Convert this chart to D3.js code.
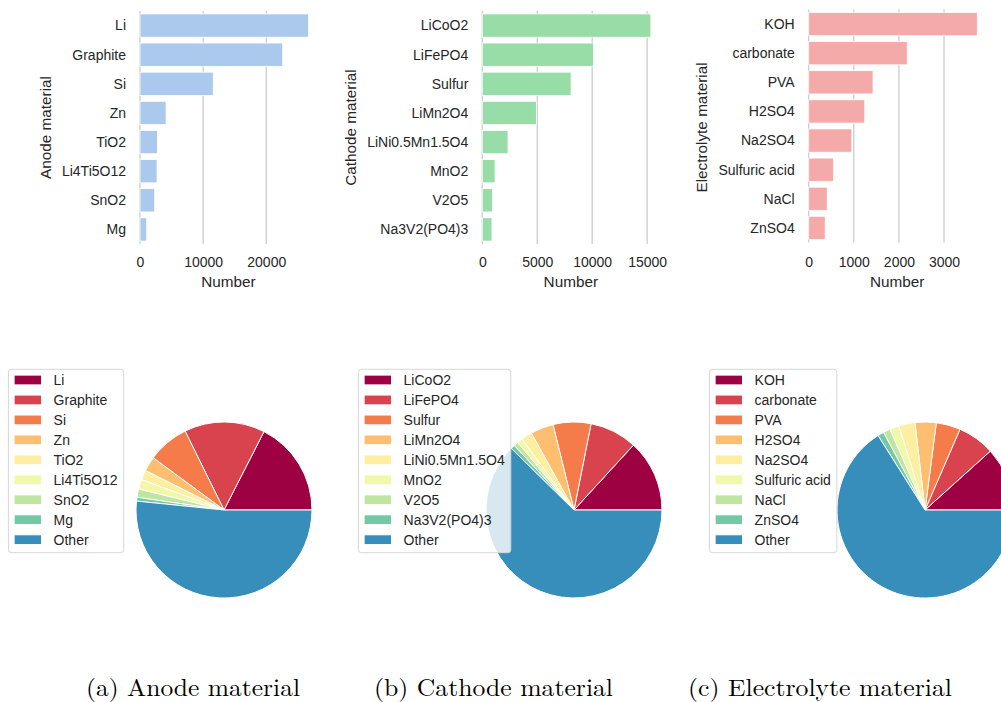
<!DOCTYPE html>
<html>
<head>
<meta charset="utf-8">
<script src="https://cdn.jsdelivr.net/npm/d3@7"></script>
<style>
  html, body { margin: 0; padding: 0; background: #ffffff; }
  svg { display: block; }
</style>
</head>
<body>
<svg id="chart" width="1001" height="702"></svg>
<script>
// ---------------- DATA ----------------
const anodeCategories = ["Li", "Graphite", "Si", "Zn", "TiO2", "Li4Ti5O12", "SnO2", "Mg"];
const anodeValues = [26700, 22600, 11600, 4130, 2750, 2700, 2330, 1060];
const anodeOther = 78800;
const anodeTicks = [0, 10000, 20000];

const cathodeCategories = ["LiCoO2", "LiFePO4", "Sulfur", "LiMn2O4", "LiNi0.5Mn1.5O4", "MnO2", "V2O5", "Na3V2(PO4)3"];
const cathodeValues = [15340, 10110, 8080, 4920, 2340, 1160, 940, 880];
const cathodeOther = 72500;
const cathodeTicks = [0, 5000, 10000, 15000];

const electrolyteCategories = ["KOH", "carbonate", "PVA", "H2SO4", "Na2SO4", "Sulfuric acid", "NaCl", "ZnSO4"];
const electrolyteValues = [3737, 2185, 1426, 1243, 956, 552, 411, 366];
const electrolyteOther = 21150;
const electrolyteTicks = [0, 1000, 2000, 3000];

const otherLabel = "Other";
const xAxisLabel = "Number";
const yAxisLabels = ["Anode material", "Cathode material", "Electrolyte material"];
const captions = ["(a) Anode material", "(b) Cathode material", "(c) Electrolyte material"];

// ---------------- STYLE ----------------
const barColors = ["#abc9ec", "#98dca8", "#f4aaa8"];
const spectralStops = ["#9e0142", "#d53e4f", "#f46d43", "#fdae61", "#fee08b", "#ffffbf",
                       "#e6f598", "#abdda4", "#66c2a5", "#3288bd", "#5e4fa2"];
const spectral = d3.scaleLinear()
  .domain(d3.range(spectralStops.length).map(i => i / (spectralStops.length - 1)))
  .range(spectralStops)
  .interpolate(d3.interpolateRgb);
const pieColors = d3.range(9).map(i => spectral(i / 9));

const textColor = "#262626";
const gridColor = "#cccccc";
const sansFont = "'Liberation Sans', Arial, Helvetica, sans-serif";

const svg = d3.select("#chart");

const panels = [
  { cats: anodeCategories, vals: anodeValues, other: anodeOther, ticks: anodeTicks, left: 140, top: 11, pieCx: 224, capX: 193, capW: 214 },
  { cats: cathodeCategories, vals: cathodeValues, other: cathodeOther, ticks: cathodeTicks, left: 482.3, top: 11, pieCx: 574, capX: 493.5, capW: 239 },
  { cats: electrolyteCategories, vals: electrolyteValues, other: electrolyteOther, ticks: electrolyteTicks, left: 808.7, top: 9.5, pieCx: 925, capX: 820, capW: 264 }
];

const axW = 177, axH = 233;
const pieCy = 510, pieR = 88;

panels.forEach((p, idx) => {
  // ---------------- BAR CHART ----------------
  const g = svg.append("g").attr("transform", `translate(${p.left},${p.top})`);
  const x = d3.scaleLinear().domain([0, d3.max(p.vals) * 1.05]).range([0, axW]);
  const y = d3.scaleBand().domain(p.cats).range([0, axH]).paddingInner(0.2).paddingOuter(0.1);

  // grid
  g.selectAll("line.grid").data(p.ticks).enter().append("line")
    .attr("x1", d => x(d)).attr("x2", d => x(d))
    .attr("y1", 0).attr("y2", axH)
    .attr("stroke", gridColor).attr("stroke-width", 1.3);

  // bars
  g.selectAll("rect.bar").data(p.cats).enter().append("rect")
    .attr("x", x(0))
    .attr("y", (d) => y(d))
    .attr("width", (d, i) => x(p.vals[i]) - x(0))
    .attr("height", y.bandwidth())
    .attr("fill", barColors[idx])
    .attr("stroke", "#ffffff").attr("stroke-width", 0.8);

  // x axis (no line)
  const xAxis = d3.axisBottom(x).tickValues(p.ticks).tickFormat(d3.format("d")).tickSize(0).tickPadding(0);
  const xg = g.append("g").attr("transform", `translate(0,${244 - p.top})`).call(xAxis);
  xg.select(".domain").remove();
  xg.selectAll("text").attr("dy", null).attr("y", 22.5)
    .attr("font-family", sansFont).attr("font-size", 14).attr("fill", textColor);

  // y axis (no line)
  const yAxis = d3.axisLeft(y).tickSize(0).tickPadding(14);
  const yg = g.append("g").call(yAxis);
  yg.select(".domain").remove();
  yg.selectAll("text").attr("font-family", sansFont).attr("font-size", 14).attr("fill", textColor)
    .attr("dy", "0.35em");

  // x label
  g.append("text").attr("x", axW / 2).attr("y", 287.3 - p.top)
    .attr("text-anchor", "middle").attr("font-family", sansFont).attr("font-size", 15.3)
    .attr("fill", textColor).text(xAxisLabel);

  // y label
  let maxW = 0;
  yg.selectAll("text").each(function () { maxW = Math.max(maxW, this.getComputedTextLength()); });
  const ylx = -14 - maxW - 11;
  g.append("text")
    .attr("transform", `translate(${ylx},${(244 - 11) / 2 + (11 - p.top)}) rotate(-90)`)
    .attr("text-anchor", "middle").attr("font-family", sansFont).attr("font-size", 15.3)
    .attr("fill", textColor).text(yAxisLabels[idx]);

  // ---------------- PIE CHART ----------------
  const pieVals = p.vals.concat([p.other]);
  const pieLabels = p.cats.concat([otherLabel]);
  const pie = d3.pie().sort(null).startAngle(Math.PI / 2).endAngle(Math.PI / 2 - 2 * Math.PI);
  const arc = d3.arc().innerRadius(0).outerRadius(pieR);
  const pg = svg.append("g").attr("transform", `translate(${p.pieCx},${pieCy})`);
  pg.selectAll("path").data(pie(pieVals)).enter().append("path")
    .attr("d", arc)
    .attr("fill", (d, i) => pieColors[i])
    .attr("stroke", "#ffffff").attr("stroke-width", 1)
    .attr("stroke-linejoin", "round");

  // legend
  const lx = p.pieCx - 215.6, ly = 369.3;
  const lg = svg.append("g").attr("transform", `translate(${lx},${ly})`);
  const frame = lg.append("rect").attr("x", 0).attr("y", 0).attr("height", 183.4)
    .attr("rx", 3).attr("ry", 3)
    .attr("fill", "#ffffff").attr("fill-opacity", 0.8)
    .attr("stroke", "#d6d6d6").attr("stroke-width", 1);
  let maxT = 0;
  pieLabels.forEach((lab, i) => {
    const cy = 10.7 + i * 19.96;
    lg.append("rect").attr("x", 5.7).attr("y", cy - 4.9).attr("width", 27.4).attr("height", 9.8)
      .attr("fill", pieColors[i]).attr("stroke", "#ffffff").attr("stroke-width", 1);
    const t = lg.append("text").attr("x", 45.2).attr("y", cy + 5)
      .attr("font-family", sansFont).attr("font-size", 14).attr("fill", textColor).text(lab);
    maxT = Math.max(maxT, t.node().getComputedTextLength());
  });
  frame.attr("width", 45.2 + maxT + 6);

  // caption
  svg.append("text").attr("x", p.capX).attr("y", 695.5)
    .attr("text-anchor", "middle")
    .attr("font-family", "'Latin Modern Roman', 'CMU Serif', 'Liberation Serif', 'Times New Roman', serif")
    .attr("font-size", 24).attr("fill", "#000000")
    .attr("textLength", p.capW).attr("lengthAdjust", "spacingAndGlyphs")
    .text(captions[idx]);
});
</script>
</body>
</html>
